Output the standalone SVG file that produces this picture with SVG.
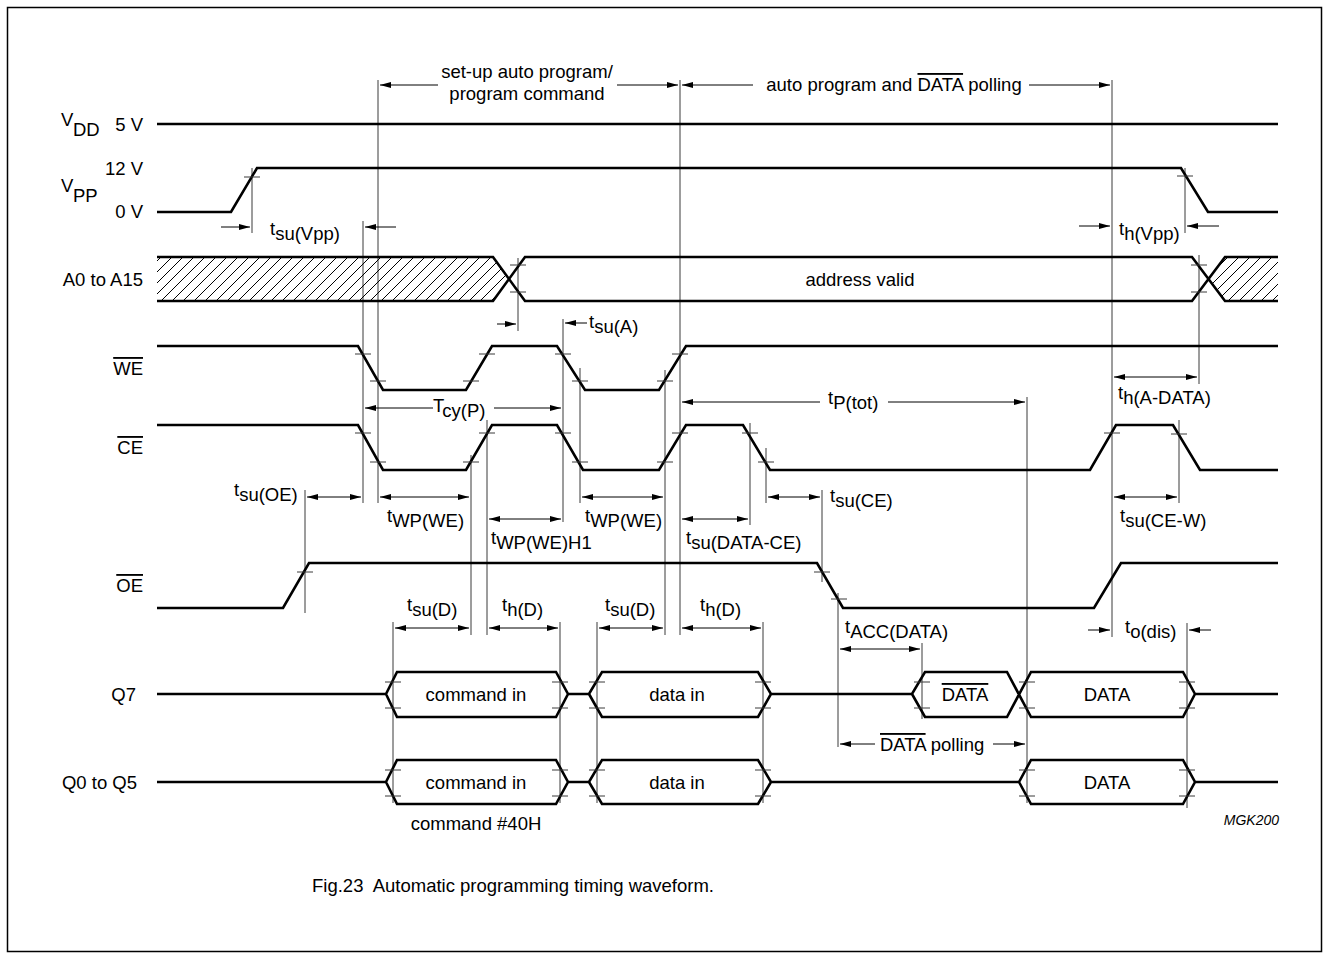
<svg xmlns="http://www.w3.org/2000/svg" width="1329" height="959" viewBox="0 0 1329 959">
<style>
text{font-family:"Liberation Sans",Arial,Helvetica,sans-serif;font-size:18.5px;fill:#000}
.sig{fill:none;stroke:#000;stroke-width:2.6;stroke-linejoin:miter}
.tl{fill:none;stroke:#3a3a3a;stroke-width:1}
.tk{fill:none;stroke:#3a3a3a;stroke-width:1}
.ar{fill:none;stroke:#000;stroke-width:1}
.ol{text-decoration:overline}
.r{text-anchor:end}
.c{text-anchor:middle}
</style>
<defs>
<marker id="ah" viewBox="0 0 11 6" refX="11" refY="3" markerWidth="11" markerHeight="6" markerUnits="userSpaceOnUse" orient="auto-start-reverse"><path d="M0,0 L11,3 L0,6 z" fill="#000"/></marker>
<pattern id="hatch" width="11" height="11" patternUnits="userSpaceOnUse"><path d="M-1,1 L1,-1 M0,11 L11,0 M10,12 L12,10" stroke="#000" stroke-width="1"/></pattern>
</defs>
<rect x="7.5" y="7.5" width="1314" height="944" fill="none" stroke="#000" stroke-width="1.5"/>

<g id="timing-lines" class="tl">
<path d="M252,168V233 M363,221V503 M378,80V503 M471,455V635 M487,420V635 M518,258V331 M563,319V522 M580,368V503 M665,370V635 M680,80V635 M750,423V525 M766,448V503 M822,490V582 M838,593V747 M922,643V719 M1027,397V803 M1112,80V637 M1179,420V503 M1185,168V233 M1187,623V808 M1199,255V384 M305,490V613 M393,622V803 M560,622V803 M597,622V803 M763,622V803"/>
</g>

<g id="vdd">
<text x="61" y="126">V</text><text x="73" y="136">DD</text>
<text x="143" y="131" class="r">5 V</text>
<path class="sig" d="M157,124H1278"/>
</g>

<g id="vpp">
<text x="143" y="175" class="r">12 V</text>
<text x="61" y="191.5">V</text><text x="73" y="201.5">PP</text>
<text x="143" y="218" class="r">0 V</text>
<path class="sig" d="M157,212H231L257,168H1181L1208,212H1278"/>
<path class="tk" d="M244,177h16M1177,176h16"/>
</g>

<g id="address">
<text x="143" y="286" class="r">A0 to A15</text>
<path d="M157,257H493L509,279L493,301H157Z" fill="url(#hatch)" stroke="none"/>
<path d="M1208,279L1225,257H1278V301H1225Z" fill="url(#hatch)" stroke="none"/>
<path class="sig" d="M157,257H493L525,301H1192L1225,257H1278M157,301H493L525,257H1192L1225,301H1278"/>
<path class="tk" d="M510,265h16M510,292h16M1191,265h16M1191,292h16"/>
<text x="860" y="286" class="c">address valid</text>
</g>

<g id="we">
<text x="143" y="375" class="r"><tspan class="ol">WE</tspan></text>
<path class="sig" d="M157,346H358L383,390H466L492,346H557L585,390H659L686,346H1278"/>
<path class="tk" d="M355,354h16M370,381h16M463,381h16M479,354h16M555,354h16M572,381h16M657,381h16M672,354h16"/>
</g>

<g id="ce">
<text x="143" y="454" class="r"><tspan class="ol">CE</tspan></text>
<path class="sig" d="M157,425H358L383,470H466L492,425H557L583,470H659L686,425H743L770,470H1090L1116,425H1173L1200,470H1278"/>
<path class="tk" d="M355,433h16M370,462h16M463,462h16M479,433h16M555,433h16M572,462h16M657,462h16M672,433h16M742,433h16M758,462h16M1104,433h16M1171,434h16"/>
</g>

<g id="oe">
<text x="143" y="592" class="r"><tspan class="ol">OE</tspan></text>
<path class="sig" d="M157,608H283L309,563H817L843,608H1094L1121,563H1278"/>
<path class="tk" d="M297,572h16M814,572h16M831,599h16"/>
</g>

<g id="q7">
<text x="136" y="701" class="r">Q7</text>
<path class="sig" d="M157,694H386L397,672H556L568,694L556,717H397L386,694M568,694H589L602,672H758L771,694L758,717H602L589,694M771,694H912L925,672H1007L1031,717H1183L1195,694H1278M912,694L925,717H1007L1031,672H1183L1195,694"/>
<path class="tk" d="M385,682h16M385,708h16M552,682h16M552,708h16M589,682h16M589,708h16M755,682h16M755,708h16M914,682h16M914,708h16M1019,682h16M1019,708h16M1179,682h16M1179,708h16"/>
<text x="476" y="701" class="c">command in</text>
<text x="677" y="701" class="c">data in</text>
<text x="965" y="701" class="c"><tspan class="ol">DATA</tspan></text>
<text x="1107" y="701" class="c">DATA</text>
</g>

<g id="q0q5">
<text x="137" y="789" class="r">Q0 to Q5</text>
<path class="sig" d="M157,782H386L397,760H556L568,782L556,804H397L386,782M568,782H589L602,760H758L771,782L758,804H602L589,782M771,782H1019L1031,760H1183L1195,782L1183,804H1031L1019,782M1195,782H1278"/>
<path class="tk" d="M385,770h16M385,796h16M552,770h16M552,796h16M589,770h16M589,796h16M755,770h16M755,796h16M1019,770h16M1019,796h16M1179,770h16M1179,796h16"/>
<text x="476" y="789" class="c">command in</text>
<text x="677" y="789" class="c">data in</text>
<text x="1107" y="789" class="c">DATA</text>
<text x="476" y="830" class="c">command #40H</text>
</g>

<g id="connectors" class="ar">
<line x1="438" y1="85" x2="380" y2="85" marker-end="url(#ah)"/>
<line x1="617" y1="85" x2="678" y2="85" marker-end="url(#ah)"/>
<line x1="753" y1="85" x2="682" y2="85" marker-end="url(#ah)"/>
<line x1="1029" y1="85" x2="1110" y2="85" marker-end="url(#ah)"/>
<line x1="221" y1="227" x2="250" y2="227" marker-end="url(#ah)"/>
<line x1="396" y1="227" x2="365" y2="227" marker-end="url(#ah)"/>
<line x1="1079" y1="226" x2="1110" y2="226" marker-end="url(#ah)"/>
<line x1="1219" y1="226" x2="1187" y2="226" marker-end="url(#ah)"/>
<line x1="497" y1="324" x2="516" y2="324" marker-end="url(#ah)"/>
<line x1="587" y1="323" x2="565" y2="323" marker-end="url(#ah)"/>
<line x1="1114" y1="377" x2="1197" y2="377" marker-start="url(#ah)" marker-end="url(#ah)"/>
<line x1="433" y1="408" x2="365" y2="408" marker-end="url(#ah)"/>
<line x1="494" y1="408" x2="561" y2="408" marker-end="url(#ah)"/>
<line x1="820" y1="402" x2="682" y2="402" marker-end="url(#ah)"/>
<line x1="888" y1="402" x2="1025" y2="402" marker-end="url(#ah)"/>
<line x1="307" y1="497" x2="361" y2="497" marker-start="url(#ah)" marker-end="url(#ah)"/>
<line x1="380" y1="497" x2="469" y2="497" marker-start="url(#ah)" marker-end="url(#ah)"/>
<line x1="489" y1="519" x2="561" y2="519" marker-start="url(#ah)" marker-end="url(#ah)"/>
<line x1="582" y1="497" x2="663" y2="497" marker-start="url(#ah)" marker-end="url(#ah)"/>
<line x1="682" y1="519" x2="748" y2="519" marker-start="url(#ah)" marker-end="url(#ah)"/>
<line x1="768" y1="497" x2="820" y2="497" marker-start="url(#ah)" marker-end="url(#ah)"/>
<line x1="1114" y1="497" x2="1177" y2="497" marker-start="url(#ah)" marker-end="url(#ah)"/>
<line x1="395" y1="628" x2="469" y2="628" marker-start="url(#ah)" marker-end="url(#ah)"/>
<line x1="489" y1="628" x2="558" y2="628" marker-start="url(#ah)" marker-end="url(#ah)"/>
<line x1="599" y1="628" x2="663" y2="628" marker-start="url(#ah)" marker-end="url(#ah)"/>
<line x1="682" y1="628" x2="761" y2="628" marker-start="url(#ah)" marker-end="url(#ah)"/>
<line x1="840" y1="649" x2="920" y2="649" marker-start="url(#ah)" marker-end="url(#ah)"/>
<line x1="1088" y1="630" x2="1110" y2="630" marker-end="url(#ah)"/>
<line x1="1211" y1="630" x2="1189" y2="630" marker-end="url(#ah)"/>
<line x1="875" y1="744" x2="840" y2="744" marker-end="url(#ah)"/>
<line x1="993" y1="744" x2="1025" y2="744" marker-end="url(#ah)"/>
</g>

<g id="labels">
<text x="527" y="78" class="c">set-up auto program/</text>
<text x="527" y="100" class="c">program command</text>
<text x="894" y="91" class="c">auto program and <tspan class="ol">DATA</tspan> polling</text>
<text x="270" y="235">t<tspan dy="5">su(Vpp)</tspan></text>
<text x="1119" y="235">t<tspan dy="5">h(Vpp)</tspan></text>
<text x="589" y="328">t<tspan dy="5">su(A)</tspan></text>
<text x="1118" y="399">t<tspan dy="5">h(A-DATA)</tspan></text>
<text x="433" y="412">T<tspan dy="5">cy(P)</tspan></text>
<text x="828" y="404">t<tspan dy="5">P(tot)</tspan></text>
<text x="234" y="496">t<tspan dy="5">su(OE)</tspan></text>
<text x="387" y="522">t<tspan dy="5">WP(WE)</tspan></text>
<text x="491" y="544">t<tspan dy="5">WP(WE)H1</tspan></text>
<text x="585" y="522">t<tspan dy="5">WP(WE)</tspan></text>
<text x="686" y="544">t<tspan dy="5">su(DATA-CE)</tspan></text>
<text x="830" y="502">t<tspan dy="5">su(CE)</tspan></text>
<text x="1120" y="522">t<tspan dy="5">su(CE-W)</tspan></text>
<text x="407" y="611">t<tspan dy="5">su(D)</tspan></text>
<text x="502" y="611">t<tspan dy="5">h(D)</tspan></text>
<text x="605" y="611">t<tspan dy="5">su(D)</tspan></text>
<text x="700" y="611">t<tspan dy="5">h(D)</tspan></text>
<text x="845" y="633">t<tspan dy="5">ACC(DATA)</tspan></text>
<text x="1125" y="633">t<tspan dy="5">o(dis)</tspan></text>
<text x="880" y="751"><tspan class="ol">DATA</tspan> polling</text>
<text x="1279" y="825" class="r" style="font-size:14px;font-style:italic">MGK200</text>
<text x="312" y="892" xml:space="preserve">Fig.23  Automatic programming timing waveform.</text>
</g>
</svg>
